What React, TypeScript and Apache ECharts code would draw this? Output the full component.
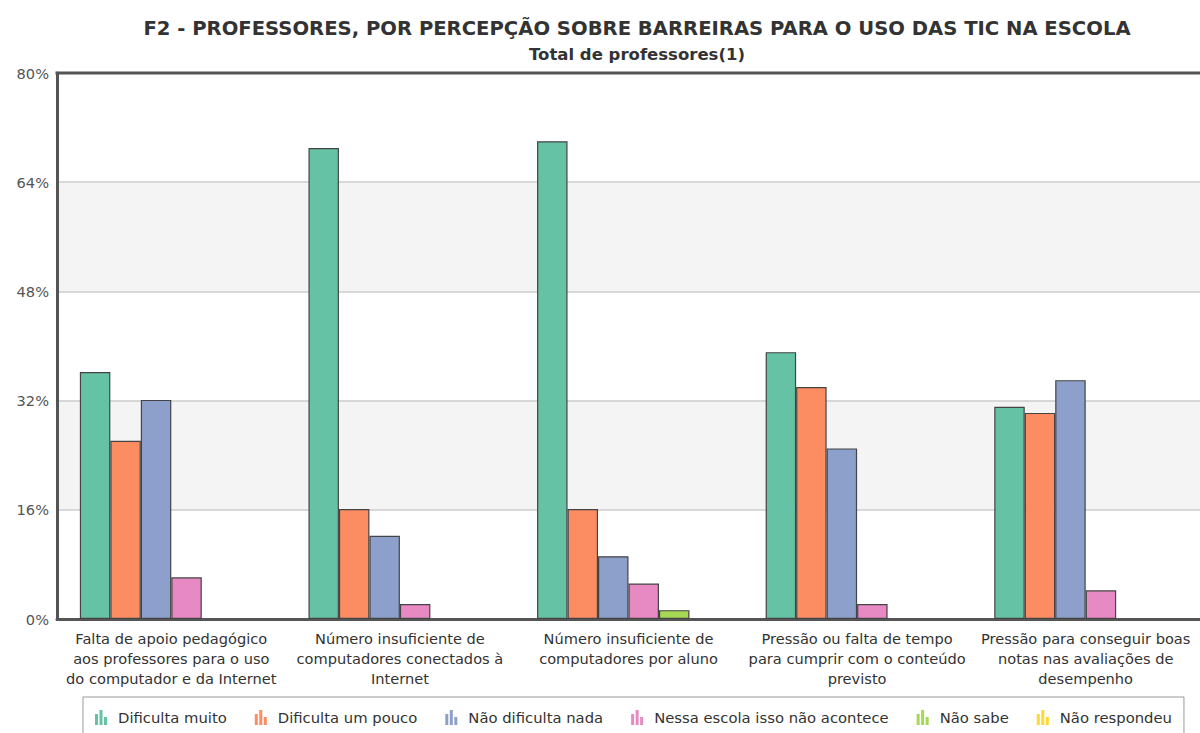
import React, { useEffect, useRef } from "react";
import * as echarts from "echarts";

const categories = [
  "Falta de apoio pedagógico\naos professores para o uso\ndo computador e da Internet",
  "Número insuficiente de\ncomputadores conectados à\nInternet",
  "Número insuficiente de\ncomputadores por aluno",
  "Pressão ou falta de tempo\npara cumprir com o conteúdo\nprevisto",
  "Pressão para conseguir boas\nnotas nas avaliações de\ndesempenho",
];

const seriesNames = [
  "Dificulta muito",
  "Dificulta um pouco",
  "Não dificulta nada",
  "Nessa escola isso não acontece",
  "Não sabe",
  "Não respondeu",
];

const dificultaMuito = [36.2, 69.0, 70.0, 39.1, 31.1];
const dificultaUmPouco = [26.1, 16.1, 16.1, 34.0, 30.2];
const naoDificultaNada = [32.1, 12.2, 9.2, 25.0, 35.0];
const nessaEscola = [6.1, 2.2, 5.2, 2.2, 4.2];
const naoSabe: (number | string)[] = ["-", "-", 1.3, "-", "-"];
const naoRespondeu: (number | string)[] = ["-", "-", "-", "-", "-"];

const yTicks = { min: 0, max: 80, interval: 16 };

const colors = ["#66c2a5", "#fc8d62", "#8da0cb", "#e78ac3", "#a6d854", "#ffd92f"];

const FONT = "DejaVu Sans";

export default function App() {
  const ref = useRef<HTMLDivElement>(null);
  useEffect(() => {
    if (!ref.current) return;
    const chart = echarts.init(ref.current, undefined, { renderer: "svg" });
    const allData = [dificultaMuito, dificultaUmPouco, naoDificultaNada, nessaEscola, naoSabe, naoRespondeu];
    chart.setOption({
      animation: false,
      color: colors,
      title: {
        text: "F2 - PROFESSORES, POR PERCEPÇÃO SOBRE BARREIRAS PARA O USO DAS TIC NA ESCOLA",
        subtext: "Total de professores(1)",
        left: 632,
        textAlign: "center",
        top: 13,
        itemGap: 8,
        textStyle: { fontFamily: FONT, fontSize: 19.6, fontWeight: "bold", color: "#333" },
        subtextStyle: { fontFamily: FONT, fontSize: 16.5, fontWeight: "bold", color: "#333" },
      },
      legend: {
        left: 83,
        top: 697,
        padding: [13, 12, 12, 12],
        borderColor: "#999",
        borderWidth: 1,
        itemWidth: 14,
        itemHeight: 15,
        itemGap: 28,
        icon: "path://M0,5h3v11h-3z M4.5,1h3v15h-3z M9,8h3v8h-3z",
        itemStyle: { borderWidth: 0 },
        textStyle: { fontFamily: FONT, fontSize: 14.8, color: "#333", padding: [0, 0, 0, 5] },
        data: seriesNames,
      },
      grid: { left: 57, top: 73, width: 1147, height: 546, show: false },
      xAxis: {
        type: "category",
        data: categories,
        axisTick: { show: false },
        axisLine: { show: true, lineStyle: { color: "#555", width: 3 } },
        axisLabel: {
          interval: 0,
          fontFamily: FONT,
          fontSize: 14.6,
          color: "#333",
          lineHeight: 20,
          margin: 9,
        },
      },
      yAxis: {
        type: "value",
        min: yTicks.min,
        max: yTicks.max,
        interval: yTicks.interval,
        axisLine: { show: true, lineStyle: { color: "#555", width: 3 } },
        axisTick: { show: false },
        axisLabel: {
          formatter: "{value}%",
          fontFamily: FONT,
          fontSize: 14.6,
          color: "#555",
          margin: 8,
        },
        splitLine: { show: true, lineStyle: { color: "#ccc", width: 1.5 } },
        splitArea: { show: true, areaStyle: { color: ["#ffffff", "#f4f4f4"] } },
      },
      graphic: [
        {
          type: "line",
          shape: { x1: 55.5, y1: 73, x2: 1200, y2: 73 },
          style: { stroke: "#555", lineWidth: 3 },
          z: 10,
        },
      ],
      series: seriesNames.map((name, i) => ({
        name,
        type: "bar",
        data: allData[i],
        barGap: "0%",
        barCategoryGap: "20%",
        itemStyle: { borderColor: "#444", borderWidth: 1.2 },
      })),
    });
    return () => chart.dispose();
  }, []);
  return (
    <div
      ref={ref}
      style={{ position: "fixed", left: 0, top: 0, width: 1200, height: 733, background: "#fff" }}
    />
  );
}
